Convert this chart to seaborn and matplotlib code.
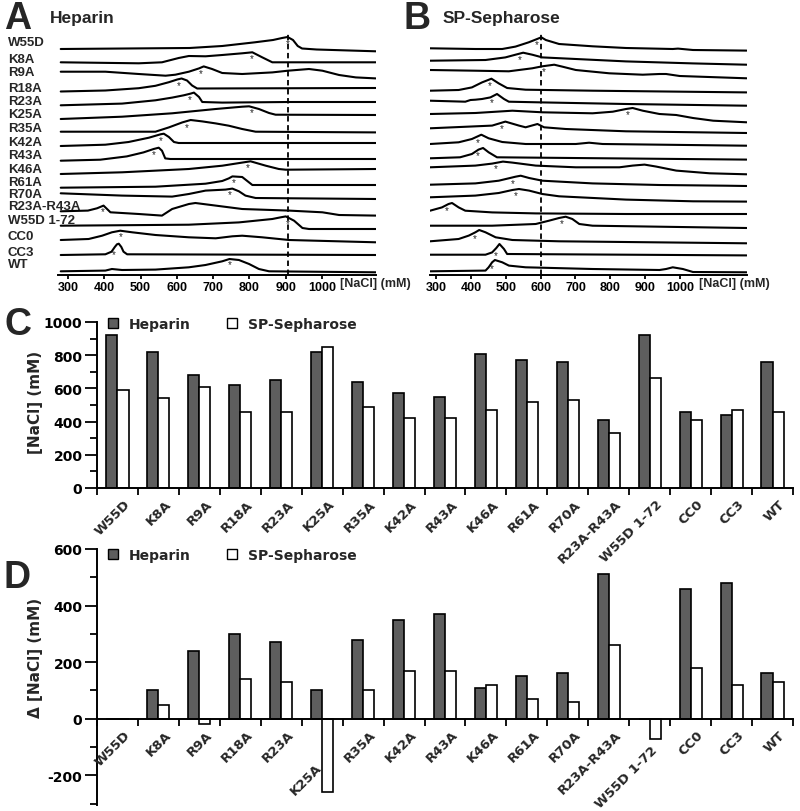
import numpy as np
import pandas as pd
import seaborn as sns
import matplotlib.pyplot as plt
from matplotlib.patches import Patch
from matplotlib.transforms import offset_copy

variants = ['W55D', 'K8A', 'R9A', 'R18A', 'R23A', 'K25A', 'R35A', 'K42A', 'R43A',
            'K46A', 'R61A', 'R70A', 'R23A-R43A', 'W55D 1-72', 'CC0', 'CC3', 'WT']

# elution maxima, [NaCl] mM
heparin_peak = [920, 820, 680, 620, 650, 820, 640, 570, 550, 810, 770, 760, 410, 920, 460, 440, 760]
sp_peak = [590, 540, 610, 455, 460, 850, 490, 420, 420, 470, 520, 530, 330, 660, 410, 470, 460]

# shift vs W55D, mM
heparin_delta = [0, 100, 240, 300, 270, 100, 280, 350, 370, 110, 150, 160, 510, 0, 460, 480, 160]
sp_delta = [0, 50, -20, 140, 130, -260, 100, 170, 170, 120, 70, 60, 260, -70, 180, 120, 130]

# W55D peak position drawn as the dashed reference line (as read on the trace axes)
hep_ref_line = 905
sp_ref_line = 602

# chromatograms: ([NaCl] mM, A280 a.u.)
hep_w55d = ([280, 635, 725, 815, 865, 890, 905, 920, 933, 945, 985, 1148],
            [0, 1, 3, 6.7, 9, 11, 12, 9, 3, 0.5, -0.5, -2.3])
hep_k8a = ([280, 495, 559, 605, 633, 679, 725, 780, 808, 835, 863, 1148],
           [0, -1, 0, 4.3, 6.3, 6, 7.3, 9, 10, 5, 0, 0])
hep_r9a = ([280, 403, 495, 569, 596, 633, 661, 674, 697, 725, 780, 863, 906, 964, 1001, 1047, 1093, 1148],
           [0, 0, -2.3, -4, -3, 0, 3.3, 5.3, 2.7, -1.3, -2.3, -0.7, 1, 2.7, 1, -3.3, -5.7, -6.7])
hep_r18a = ([280, 403, 495, 541, 578, 601, 613, 628, 642, 656, 1148],
            [0, 1, 3.3, 5.7, 9.3, 12, 13, 11, 6, 3, 3.5])
hep_r23a = ([280, 449, 541, 587, 619, 638, 647, 661, 670, 725, 909, 1148],
            [0, 1.7, 5, 7.7, 10, 11.7, 12.7, 8.3, 3.3, 2.7, 3.3, 3.3])
hep_k25a = ([280, 449, 587, 707, 780, 799, 826, 854, 872, 1148],
            [0, 2.3, 5.7, 10, 12.3, 12.7, 10, 6, 4.3, 4])
hep_r35a = ([280, 541, 578, 615, 638, 670, 707, 743, 780, 817, 1148],
            [0, 0, 4.3, 9.3, 11.7, 10.3, 8.3, 6, 2.7, 0, -0.7])
hep_k42a = ([280, 403, 467, 523, 555, 564, 578, 592, 605, 1148],
            [0, 1.3, 4, 8.3, 11.7, 12.3, 9, 4, 3, 3])
hep_r43a = ([280, 389, 462, 508, 536, 550, 559, 568, 582, 1148],
            [0, 1, 4.3, 8.3, 11.7, 13, 10, 2.3, 1.7, 1.7])
hep_k46a = ([280, 449, 633, 725, 785, 803, 845, 881, 900, 1148],
            [0, 1.7, 5, 8.3, 11.7, 12.7, 8.3, 5, 4.3, 5])
hep_r61a = ([280, 541, 679, 725, 743, 753, 780, 794, 808, 1148],
            [0, 1, 4, 6.7, 9.3, 11.3, 10.7, 6.7, 2.7, 2.7])
hep_r70a = ([280, 449, 587, 633, 679, 734, 753, 771, 789, 817, 1148],
            [0, -2.3, -3.3, -0.7, 2.7, 3.7, 4.7, 2, -2.3, -4.7, -5.7])
hep_r23a_r43a = ([280, 355, 380, 398, 417, 495, 559, 587, 633, 651, 707, 780, 909, 1001, 1047, 1148],
                 [0, 0.7, 3, 5.7, -1, -2.7, -4.3, 2.3, 7.3, 8.3, 5.7, 2.3, 0.7, -1, -3.7, -4.3])
hep_w55d_172 = ([280, 633, 771, 863, 885, 900, 923, 946, 964, 1148],
                [0, 1, 3.3, 6.7, 8.3, 9.3, 5, -2.3, -3.3, -3.3])
hep_cc0 = ([280, 357, 394, 421, 444, 477, 541, 633, 707, 753, 780, 835, 909, 1148],
           [0, 1, 4.3, 7.7, 9.3, 7.7, 5, 2.7, 1.7, 3.7, 4.3, 2.7, 0, -2.3])
hep_cc3 = ([280, 403, 420, 429, 435, 440, 447, 453, 463, 1148],
           [0, 0.7, 3.3, 8, 10.7, 11.3, 8, 3.3, 0.7, 0])
hep_wt = ([280, 403, 421, 449, 541, 633, 679, 725, 745, 771, 799, 826, 854, 1148],
          [0, 0.7, 2.3, 1.3, 1.7, 4, 6.3, 10, 12.3, 11.3, 7.3, 2.3, 0, -1])

sp_w55d = ([283, 413, 490, 528, 566, 590, 602, 615, 653, 749, 845, 979, 994, 1037, 1191],
           [0, -0.7, -0.7, 1.7, 6, 9.3, 11, 8.3, 4.3, 2, 0.3, -0.7, -0.3, -1.7, -2.3])
sp_k8a = ([283, 442, 499, 528, 550, 576, 605, 701, 845, 1037, 1191],
          [0, 0.7, 3.3, 6, 8, 6, 3.3, 1.7, -0.7, -2.7, -4])
sp_r9a = ([283, 413, 509, 576, 605, 639, 663, 701, 797, 893, 941, 960, 999, 1191],
          [0, -0.7, -1.3, 1.7, 3.7, 5.3, 3.3, 0, -3.3, -4.7, -4, -4, -6, -8.3])
sp_r18a = ([283, 365, 403, 432, 459, 480, 504, 557, 749, 1191],
           [0, 0.7, 3.3, 8.3, 12, 7.3, 2.7, 1, 0, -1.7])
sp_r23a = ([283, 384, 399, 413, 432, 456, 475, 495, 509, 605, 845, 1191],
           [0, -1, 0.7, 1, 1.7, 3.3, 6.7, 1.7, -1, -1.7, -3.3, -5])
sp_k25a = ([283, 413, 519, 605, 749, 807, 845, 864, 893, 941, 989, 1037, 1095, 1191],
           [0, 1, 3.3, 1.7, 0.7, 2.3, 5, 6, 3.3, 0, -1, -4, -6.7, -8.3])
sp_r35a = ([283, 461, 499, 538, 557, 591, 610, 672, 845, 1191],
           [0, 2.7, 6.7, 2.7, 1, 4.3, 1, -0.7, -3, -4.7])
sp_k42a = ([283, 365, 403, 430, 451, 490, 557, 701, 739, 778, 1191],
           [0, 1.7, 5, 9.3, 5.7, 2, 0, 0, 1.3, 0, -1.7])
sp_r43a = ([283, 369, 403, 422, 435, 451, 475, 1191],
           [0, 1, 4.3, 8.7, 10.3, 6, 1, -1.3])
sp_k46a = ([283, 413, 461, 492, 519, 586, 701, 826, 864, 898, 932, 989, 1085, 1191],
           [0, 1.7, 3.7, 5.7, 4.7, 1.7, 0, 0, 1.7, 2.7, 0.7, -3.3, -6, -7])
sp_r61a = ([283, 413, 480, 528, 543, 567, 605, 749, 941, 1133, 1191],
           [0, 1.3, 4, 8, 9, 6.7, 4, 1.3, -0.3, -1, -1.3])
sp_r70a = ([283, 413, 480, 519, 538, 567, 605, 653, 845, 1037, 1191],
           [0, 1.7, 4.3, 7.3, 8.3, 6.7, 3.3, 1, -2.3, -4, -4.3])
sp_r23a_r43a = ([283, 317, 336, 346, 365, 384, 461, 586, 845, 1191],
                [0, 3.3, 6.7, 7.7, 3.3, 0, -1.7, -2.7, -3.3, -3.3])
sp_w55d_172 = ([283, 461, 586, 624, 653, 672, 691, 711, 749, 1191],
               [0, 0, 1.7, 5, 7.7, 9, 6.7, 1.7, 0, -2.3])
sp_cc0 = ([283, 365, 394, 413, 424, 442, 471, 519, 653, 1191],
          [0, 2.3, 5.7, 9, 11.3, 9, 4, 1.3, 0, -2])
sp_cc3 = ([283, 442, 461, 473, 482, 495, 504, 1191],
          [0, 0, 2.3, 6.7, 10.7, 5.7, 0.7, -0.7])
sp_wt = ([283, 442, 451, 461, 469, 490, 509, 557, 749, 941, 960, 979, 1008, 1037, 1191],
         [0, 0.7, 4, 9, 11.3, 9, 5.7, 4, 2.3, 1.3, 2.3, 4, 2.3, -0.7, -1])

hep_traces = [hep_w55d, hep_k8a, hep_r9a, hep_r18a, hep_r23a, hep_k25a, hep_r35a, hep_k42a,
              hep_r43a, hep_k46a, hep_r61a, hep_r70a, hep_r23a_r43a, hep_w55d_172,
              hep_cc0, hep_cc3, hep_wt]
sp_traces = [sp_w55d, sp_k8a, sp_r9a, sp_r18a, sp_r23a, sp_k25a, sp_r35a, sp_k42a,
             sp_r43a, sp_k46a, sp_r61a, sp_r70a, sp_r23a_r43a, sp_w55d_172,
             sp_cc0, sp_cc3, sp_wt]

# stacking offsets of the traces (pixels from the top of the figure)
rows_a = [50, 63.3, 72.7, 92.5, 106.3, 120, 132.7, 147, 161.7, 175, 188.7, 194.3, 212.3,
          226.7, 241, 256, 272.3]
rows_b = [49.3, 61.7, 71, 91.7, 101.7, 115, 129.3, 145, 159.3, 168.3, 185.7, 198.3, 211.7,
          226.7, 242.3, 255.7, 272.3]
label_rows = [42.7, 60, 72.7, 89, 102, 115.5, 129, 143.5, 156, 170, 182.7, 194.5, 207,
              221.5, 237, 253.5, 265.5]

W, H = 800, 812
BAR_FONT = ['DejaVu Sans']


def fx(p):
    return p / W


def fy(p):
    return 1 - p / H


sns.set_style('ticks')
plt.rcParams['font.family'] = ['Liberation Sans', 'DejaVu Sans']
plt.rcParams['axes.linewidth'] = 1.4
for k in ['xtick.major.width', 'ytick.major.width', 'xtick.minor.width', 'ytick.minor.width']:
    plt.rcParams[k] = 1.3
plt.rcParams['xtick.color'] = 'black'
plt.rcParams['ytick.color'] = 'black'
plt.rcParams['axes.edgecolor'] = 'black'

fig = plt.figure(figsize=(8, 8.12), dpi=100)

top, bottom = 35, 275.5
ax_a = fig.add_axes([fx(58), fy(bottom), (376 - 58) / W, (bottom - top) / H])
ax_b = fig.add_axes([fx(430), fy(bottom), (747 - 430) / W, (bottom - top) / H])


def chromatograms(ax, traces, rows, peaks, star_dx, dash_x, xlim):
    for (xs, ys), base, pk in zip(traces, rows, peaks):
        yy = np.array(ys) - base
        sns.lineplot(x=xs, y=yy, ax=ax, color='black', lw=1.5, sort=False,
                     estimator=None, solid_joinstyle='round')
        sx = pk + star_dx
        ax.text(sx, np.interp(sx, xs, yy) - 5.5, '*', ha='center', va='center', fontsize=7)
    ax.axvline(dash_x, color='black', lw=1.3, ls=(0, (3, 2)))
    ax.set_xlim(*xlim)
    ax.set_ylim(-bottom, -top)
    ax.set_yticks([])
    ax.set_xticks(range(300, 1001, 100))
    ax.set_xticklabels([str(v) for v in range(300, 1001, 100)], fontweight='bold', fontsize=9)
    ax.tick_params(axis='x', length=3, pad=2)
    sns.despine(ax=ax, left=True)
    ax.set_xlabel('')
    ax.set_ylabel('')


chromatograms(ax_a, hep_traces, rows_a, heparin_peak, -14, hep_ref_line, (272.5, 1148.7))
chromatograms(ax_b, sp_traces, rows_b, sp_peak, 0, sp_ref_line, (282.8, 1192))

for name, yl in zip(variants, label_rows):
    fig.text(fx(8), fy(yl), name, fontsize=9.5, fontweight='bold', va='center')

fig.text(fx(340), fy(284), '[NaCl] (mM)', fontsize=9, fontweight='bold', va='center')
fig.text(fx(699), fy(284), '[NaCl] (mM)', fontsize=9, fontweight='bold', va='center')

fig.text(fx(4), fy(19), 'A', fontsize=27, fontweight='bold', va='center')
fig.text(fx(50), fy(19), 'Heparin', fontsize=12.5, fontweight='bold', va='center')
fig.text(fx(404), fy(19), 'B', fontsize=27, fontweight='bold', va='center')
fig.text(fx(443), fy(19), 'SP-Sepharose', fontsize=12.5, fontweight='bold', va='center')
fig.text(fx(4), fy(325), 'C', fontsize=27, fontweight='bold', va='center')
fig.text(fx(4), fy(578), 'D', fontsize=27, fontweight='bold', va='center')

# bar panels
ax_c = fig.add_axes([fx(97), fy(489), 696 / W, 166 / H])
ax_d = fig.add_axes([fx(97), fy(806), 696 / W, 256 / H])
ax_d.patch.set_visible(False)

resin = ['Heparin'] * len(variants) + ['SP-Sepharose'] * len(variants)
pal = {'Heparin': '#5e5e5e', 'SP-Sepharose': 'white'}
df_c = pd.DataFrame({'variant': variants * 2, 'resin': resin, 'nacl': heparin_peak + sp_peak})
df_d = pd.DataFrame({'variant': variants * 2, 'resin': resin, 'nacl': heparin_delta + sp_delta})

# per-label nudges (pixels) for the rotated category names in D
d_label_shift = {'K25A': (-13, -33), 'W55D 1-72': (-5, -15)}

for ax, df, leg_y in [(ax_c, df_c, 0.988), (ax_d, df_d, 0.977)]:
    sns.barplot(data=df, x='variant', y='nacl', hue='resin', palette=pal, saturation=1,
                edgecolor='black', linewidth=1.2, width=0.54, gap=0, legend=False, ax=ax)
    ax.set_xlim(-0.5, len(variants) - 0.5)
    ax.set_xticks([])
    ax.set_xticks(np.arange(-0.5, len(variants), 1), minor=True)
    ax.tick_params(axis='x', which='minor', length=5)
    ax.tick_params(axis='y', which='major', length=8.5, pad=2)
    ax.tick_params(axis='y', which='minor', length=5)
    sns.despine(ax=ax)
    ax.set_xlabel('')
    handles = [Patch(facecolor='#5e5e5e', edgecolor='black', lw=1.0, label='Heparin'),
               Patch(facecolor='white', edgecolor='black', lw=1.0, label='SP-Sepharose')]
    ax.legend(handles=handles, loc='center left', bbox_to_anchor=(0.016, leg_y), ncol=2,
              frameon=False, prop={'family': BAR_FONT, 'weight': 'bold', 'size': 10},
              handlelength=0.7, handleheight=0.65, handletextpad=0.8, columnspacing=2.6,
              borderaxespad=0, borderpad=0)

ax_d.spines['bottom'].set_position(('data', 0))

for ax, base in [(ax_c, ax_c.get_xaxis_transform()), (ax_d, ax_d.transData)]:
    for i, name in enumerate(variants):
        dx, dy = 6, -9
        if ax is ax_d and name in d_label_shift:
            ddx, ddy = d_label_shift[name]
            dx, dy = dx + ddx, dy + ddy
        tr = offset_copy(base, fig=fig, x=dx * 0.72, y=dy * 0.72, units='points')
        ax.text(i, 0, name, transform=tr, rotation=45, ha='right', va='top',
                rotation_mode='anchor', family=BAR_FONT, fontweight='bold', fontsize=9.5,
                clip_on=False)

ax_c.set_ylim(0, 1000)
ax_c.set_yticks(range(0, 1001, 200))
ax_c.set_yticks(range(0, 1001, 100), minor=True)
ax_c.set_yticklabels([str(v) for v in range(0, 1001, 200)], family=BAR_FONT,
                     fontweight='bold', fontsize=10)
ax_c.set_ylabel('[NaCl] (mM)', family=BAR_FONT, fontsize=11, fontweight='bold')
ax_c.yaxis.set_label_coords(-0.078, 0.52)

ax_d.set_ylim(-305, 600)
ax_d.set_yticks(range(-200, 601, 200))
ax_d.set_yticks(range(-300, 601, 100), minor=True)
ax_d.set_yticklabels([str(v) for v in range(-200, 601, 200)], family=BAR_FONT,
                     fontweight='bold', fontsize=10)
ax_d.set_ylabel('\u0394 [NaCl] (mM)', family=BAR_FONT, fontsize=11, fontweight='bold')
ax_d.yaxis.set_label_coords(-0.078, 0.58)

fig.savefig('out.png', dpi=100)
